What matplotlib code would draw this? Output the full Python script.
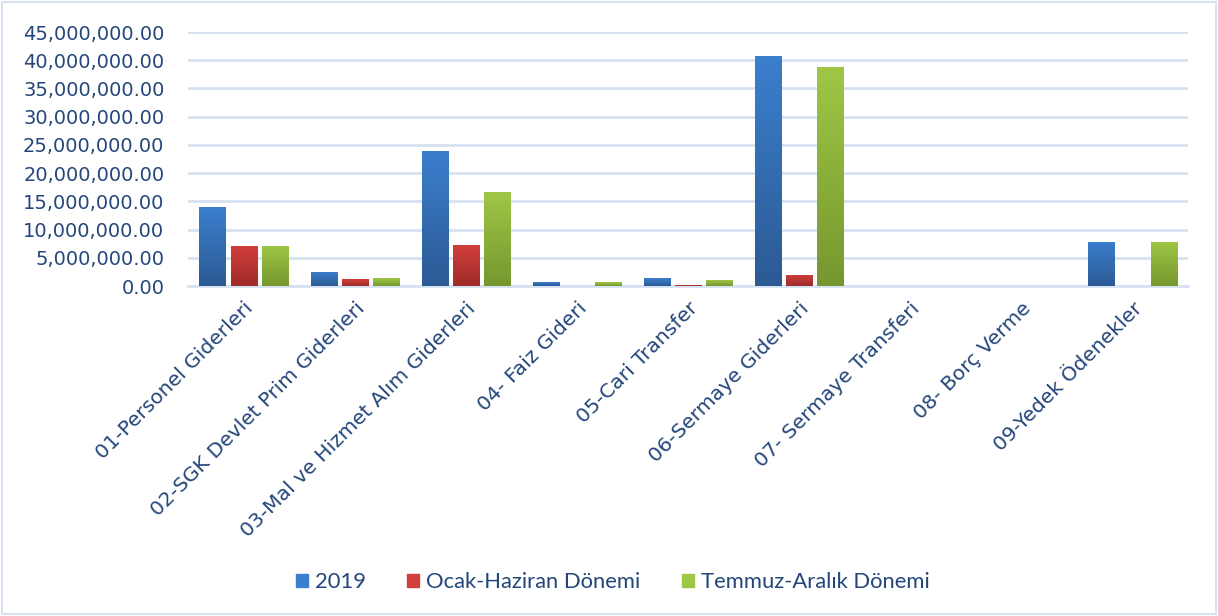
import numpy as np
import matplotlib.pyplot as plt
from matplotlib.patches import Rectangle
from matplotlib.ticker import FuncFormatter

categories = ["01-Personel Giderleri", "02-SGK Devlet Prim Giderleri",
              "03-Mal ve Hizmet Alım Giderleri", "04- Faiz Gideri",
              "05-Cari Transfer", "06-Sermaye Giderleri",
              "07- Sermaye Transferi", "08- Borç Verme", "09-Yedek Ödenekler"]
series_names = ["2019", "Ocak-Haziran Dönemi", "Temmuz-Aralık Dönemi"]
v2019 = [14000000, 2500000, 24000000, 700000, 1400000, 40750000, 0, 0, 7800000]
v_ocak = [7100000, 1200000, 7300000, 0, 200000, 1950000, 0, 0, 0]
v_temmuz = [7100000, 1400000, 16700000, 700000, 1050000, 38800000, 0, 0, 7800000]

# (top colour, bottom colour) for the vertical gradient
colors = [("#3b7fce", "#2c5a94"), ("#d23f3b", "#9f2b2a"), ("#9fc746", "#76972f")]
text_color = "#24467a"
grid_color = "#d6e2f2"

fig = plt.figure(figsize=(12.18, 6.16), dpi=100)
ax = fig.add_axes([188 / 1218, 1 - 286 / 616, 1000 / 1218, 254 / 616])
plt.rcParams['font.family'] = ['Lato', 'DejaVu Sans']

x = np.arange(len(categories))
width = 0.235
offsets = [-0.28, 0, 0.28]
grad = np.linspace(0, 1, 256).reshape(-1, 1)

for vals, off, (ctop, cbot), name in zip([v2019, v_ocak, v_temmuz], offsets, colors, series_names):
    bars = ax.bar(x + off, vals, width, color=ctop, label=name, zorder=3)
    cmap = plt.matplotlib.colors.LinearSegmentedColormap.from_list("g", [cbot, ctop])
    for b in bars:
        h = b.get_height()
        if h <= 0:
            continue
        b.set_alpha(0)
        im = ax.imshow(grad, cmap=cmap, aspect="auto", origin="lower",
                       extent=[b.get_x(), b.get_x() + b.get_width(), 0, h], zorder=3)
        im.set_clip_path(b)
        # soft shadow under the bar
        ax.add_patch(Rectangle((b.get_x() + 0.01, -300000), b.get_width() - 0.02, 300000,
                               color="#bfbfbf", alpha=0.5, zorder=2, lw=0))

ax.set_xlim(-0.5, len(categories) - 0.5)
ax.set_ylim(0, 45000000)
ax.set_yticks(np.arange(0, 45000001, 5000000))
ax.yaxis.set_major_formatter(FuncFormatter(lambda v, p: f"{v:,.2f}"))
ax.grid(axis="y", color=grid_color, linewidth=2, zorder=0)
ax.set_axisbelow(True)
for s in ["top", "right", "left"]:
    ax.spines[s].set_visible(False)
ax.spines["bottom"].set_color(grid_color)
ax.spines["bottom"].set_linewidth(2)
ax.tick_params(axis="both", length=0, colors=text_color, labelsize=14)
ax.tick_params(axis="y", pad=17)
ax.set_xticks(x)
ax.set_xticklabels(categories, rotation=45, ha="right", rotation_mode="anchor", fontsize=14.6)
ax.tick_params(axis="x", pad=9)

proxies = [Rectangle((0, 0), 1, 1, color=c[0]) for c in colors]
fig.legend(proxies, series_names, loc="center", bbox_to_anchor=(0.503, 1 - 582 / 616),
           ncol=3, frameon=False, fontsize=15.8, labelcolor=text_color,
           handlelength=0.55, handleheight=0.55, handletextpad=0.3, columnspacing=1.9)

fig.patches.append(Rectangle((0.002, 0.003), 0.996, 0.994, transform=fig.transFigure,
                             fill=False, edgecolor=grid_color, linewidth=1.5))

fig.savefig("out.png", dpi=100)
